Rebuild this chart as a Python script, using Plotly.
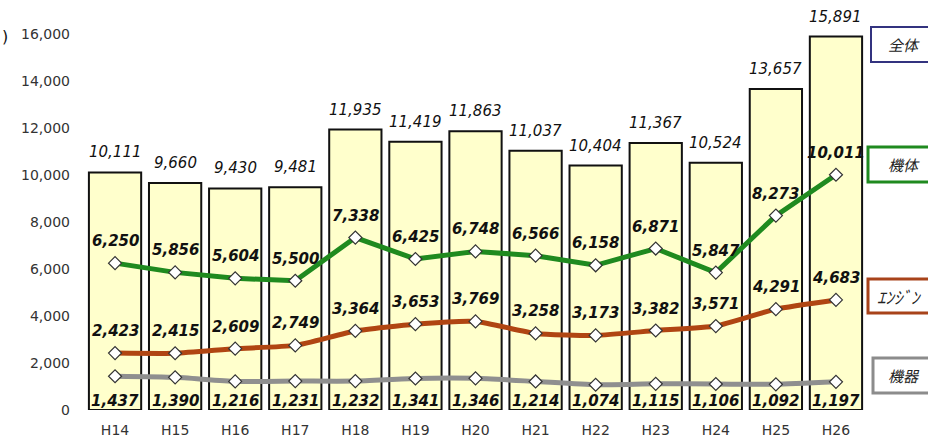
import plotly.graph_objects as go

years = ["H14", "H15", "H16", "H17", "H18", "H19", "H20", "H21", "H22", "H23", "H24", "H25", "H26"]
total = [10111, 9660, 9430, 9481, 11935, 11419, 11863, 11037, 10404, 11367, 10524, 13657, 15891]
airframe = [6250, 5856, 5604, 5500, 7338, 6425, 6748, 6566, 6158, 6871, 5847, 8273, 10011]
engine = [2423, 2415, 2609, 2749, 3364, 3653, 3769, 3258, 3173, 3382, 3571, 4291, 4683]
equipment = [1437, 1390, 1216, 1231, 1232, 1341, 1346, 1214, 1074, 1115, 1106, 1092, 1197]
y_ticks = [0, 2000, 4000, 6000, 8000, 10000, 12000, 14000, 16000]
series_names = ["全体", "機体", "ｴﾝｼﾞﾝ", "機器"]

W, H = 928, 439
L, R, T, B = 85, 866, 34, 410


def px(x):
    return (x - L) / (R - L)


def py(y):
    return (B - y) / (B - T)


FONT = "DejaVu Sans, Verdana, sans-serif"
CJK = "Noto Sans CJK JP, sans-serif"

fig = go.Figure()
fig.add_trace(go.Bar(x=years, y=total, marker=dict(color="#ffffcc", line=dict(color="#111111", width=2)),
                     showlegend=False, hoverinfo="skip"))

marker = dict(symbol="diamond", size=10, color="white", line=dict(color="#333333", width=1.2))
fig.add_trace(go.Scatter(x=years, y=equipment, mode="lines+markers",
                         line=dict(color="#8f8f8f", width=5, shape="spline", smoothing=0.5),
                         marker=marker, showlegend=False))
fig.add_trace(go.Scatter(x=years, y=engine, mode="lines+markers",
                         line=dict(color="#b04512", width=5, shape="spline", smoothing=0.5),
                         marker=marker, showlegend=False))
fig.add_trace(go.Scatter(x=years, y=airframe, mode="lines+markers",
                         line=dict(color="#1f8a1f", width=5),
                         marker=marker, showlegend=False))

ann = []
for i, yr in enumerate(years):
    ann.append(dict(x=yr, y=total[i], text="<i>{:,}</i>".format(total[i]), showarrow=False,
                    yshift=20, font=dict(family=FONT, size=15, color="#111111")))
    ann.append(dict(x=yr, y=airframe[i], text="<b><i>{:,}</i></b>".format(airframe[i]), showarrow=False,
                    yshift=22, font=dict(family=FONT, size=15, color="#111111")))
    ann.append(dict(x=yr, y=engine[i], text="<b><i>{:,}</i></b>".format(engine[i]), showarrow=False,
                    yshift=22, font=dict(family=FONT, size=15, color="#111111")))
    ann.append(dict(x=yr, y=0, text="<b><i>{:,}</i></b>".format(equipment[i]), showarrow=False,
                    yshift=9, font=dict(family=FONT, size=15, color="#111111")))

shapes = []
legend_geom = [
    (871, 27, 62, "#33337f", 2, 15, 904),
    (868, 147, 182, "#1f8a1f", 3, 15, 904),
    (868, 279, 313, "#a8431a", 3, 17, 899),
    (873, 358, 393, "#8c8c8c", 3, 15, 904),
]
for name, (x0, y0, y1, col, w, fs, tx) in zip(series_names, legend_geom):
    shapes.append(dict(type="rect", xref="paper", yref="paper", x0=px(x0), x1=px(940),
                       y0=py(y1), y1=py(y0), line=dict(color=col, width=w), fillcolor="white"))
    ann.append(dict(xref="paper", yref="paper", x=px(tx), y=py((y0 + y1) / 2), text="<i>" + name + "</i>",
                    showarrow=False, xanchor="center", yanchor="middle",
                    font=dict(family=CJK, size=fs, color="#222222")))

ann.append(dict(xref="paper", yref="paper", x=px(0), y=py(36), text=")", showarrow=False,
                xanchor="left", yanchor="middle", font=dict(family=FONT, size=16, color="#111111")))

fig.update_layout(
    width=W, height=H,
    margin=dict(l=L, r=W - R, t=T, b=H - B),
    paper_bgcolor="white", plot_bgcolor="white",
    bargap=0.13,
    showlegend=False,
    annotations=ann,
    shapes=shapes,
    xaxis=dict(type="category", range=[-0.5, len(years) - 0.5], showgrid=False, showline=False,
               zeroline=False, ticks="", automargin=False,
               tickfont=dict(family=FONT, size=14, color="#333333"), ticklabelstandoff=10),
    yaxis=dict(range=[0, 16000], tickvals=y_ticks, tickformat=",", showgrid=False, zeroline=False,
               showline=False, ticks="", ticklabelstandoff=14, automargin=False,
               tickfont=dict(family=FONT, size=14, color="#333333")),
)

fig.write_html("out.html", config={"displayModeBar": False},
               post_script="document.body.style.margin='0';document.body.style.overflow='hidden';")
